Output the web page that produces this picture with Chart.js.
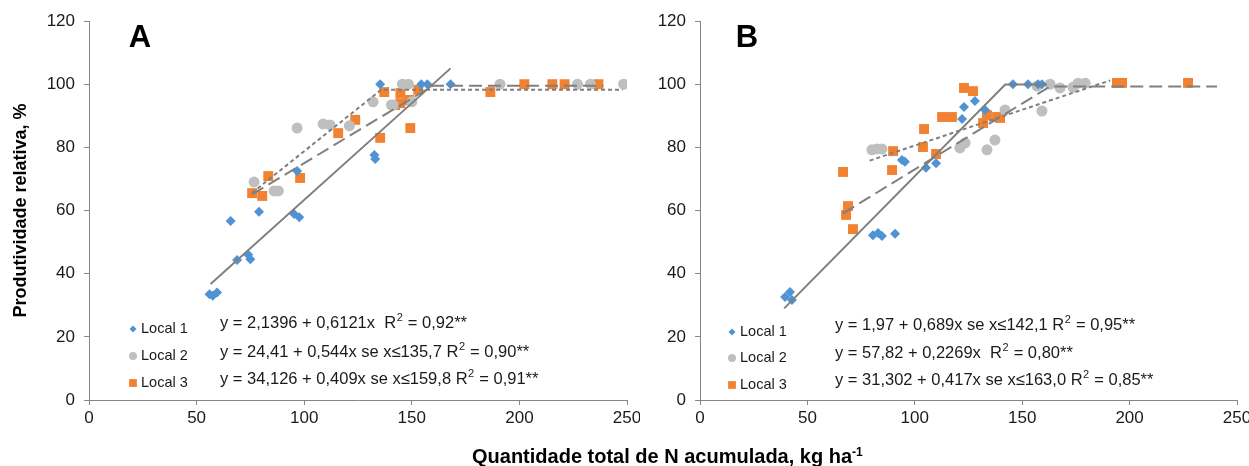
<!DOCTYPE html>
<html lang="pt">
<head>
    <meta charset="UTF-8">
    <title>Produtividade relativa x N acumulado</title>
    <script src="https://cdn.jsdelivr.net/npm/chart.js"></script>
    <style>
        body { margin: 0; padding: 0; background: #fff; }
        #wrap { position: relative; width: 1249px; height: 466px; overflow: hidden; }
        #chartA { position: absolute; left: 0; top: 0; }
        #chartB { position: absolute; left: 640px; top: 0; }
        #xTitle {
            position: absolute; left: 472px; top: 446px;
            font: bold 20px "Liberation Sans", Arial, sans-serif;
            line-height: 20px; color: #000; white-space: nowrap;
        }
        #xTitle sup { font-size: 12px; vertical-align: 7px; line-height: 0; }
    </style>
</head>
<body>
<div id="wrap">
    <canvas id="chartA" width="640" height="466"></canvas>
    <canvas id="chartB" width="609" height="466"></canvas>
    <div id="xTitle">Quantidade total de N acumulada, kg ha<sup>-1</sup></div>
</div>
<script>
    // axes
    const xTicks = [0, 50, 100, 150, 200, 250];
    const yTicks = [0, 20, 40, 60, 80, 100, 120];
    const seriesNames = ['Local 1', 'Local 2', 'Local 3'];

    // Panel A - observed points
    const a1X = [56, 57.5, 59.5, 65.8, 68.8, 74, 75, 79, 95.3, 96.7, 97.7, 132.6, 133, 135.3, 154.4, 157.2, 168];
    const a1Y = [33.5, 33, 34, 56.7, 44.3, 46, 44.6, 59.6, 58.9, 72.5, 57.9, 77.6, 76.3, 100, 100, 100, 100];
    const a2X = [76.7, 86, 88, 96.7, 108.8, 112, 121, 132, 140.5, 141.4, 145.6, 148.4, 150, 191, 227, 233, 248.4];
    const a2Y = [69, 66.2, 66.2, 86.1, 87.4, 87.1, 86.8, 94.4, 93.4, 93.4, 100, 100, 94.4, 100, 100, 100, 100];
    const a3X = [75.8, 80.5, 83.3, 98.1, 115.8, 123.7, 135.3, 137.2, 142.3, 144.7, 144.7, 148.8, 149.3, 153, 186.5, 202.3, 215.3, 221, 236.7];
    const a3Y = [65.5, 64.6, 70.9, 70.3, 84.5, 88.7, 83, 97.5, 93.4, 94, 97.2, 95, 86.1, 98.2, 97.5, 100, 100, 100, 100];
    // Panel A - fitted lines
    const fitA1X = [56.5, 168], fitA1Y = [36.7, 105];
    const fitA2X = [75.8, 135.7, 248], fitA2Y = [65.6, 98.2, 98.2];
    const fitA3X = [75.8, 159.8, 239], fitA3Y = [65.1, 99.5, 99.5];

    // Panel B - observed points
    const b1X = [39.6, 41.9, 42.8, 80.5, 82.9, 84.7, 90.8, 94, 95.4, 105.2, 109.9, 122, 122.9, 128, 132.7, 145.7, 152.7, 157.4, 159.2];
    const b1Y = [32.6, 34.2, 31.7, 52.2, 52.9, 51.9, 52.6, 76, 75.4, 73.5, 75, 89, 92.8, 94.7, 91.8, 100, 100, 100, 100];
    const b2X = [80, 82.4, 84.7, 121, 123.4, 133.6, 137.3, 142, 156.9, 159.2, 163, 167.6, 173.6, 176, 179.3];
    const b2Y = [79.2, 79.5, 79.5, 79.8, 81.4, 79.2, 82.3, 91.8, 99.4, 91.5, 100, 98.8, 99, 100.3, 100.3];
    const b3X = [66.6, 68, 68.9, 71.2, 89.4, 89.9, 103.8, 104.3, 109.9, 112.7, 117.3, 122.9, 127.1, 131.8, 133.6, 138.3, 139.7, 194.1, 196.5, 227.2];
    const b3Y = [72.2, 58.6, 61.4, 54.1, 72.8, 78.8, 80.1, 85.8, 77.9, 89.6, 89.6, 98.8, 97.8, 87.7, 90.2, 89.6, 89.3, 100.4, 100.4, 100.4];
    // Panel B - fitted lines
    const fitB1X = [39.2, 142.1, 161.5], fitB1Y = [29, 99.9, 99.9];
    const fitB2X = [79, 191], fitB2Y = [75.8, 101.2];
    const fitB3X = [66.6, 163, 240.7], fitB3Y = [59.1, 99.3, 99.3];

    const eqA = [
        ['y = 2,1396 + 0,6121x  R', ' = 0,92**'],
        ['y = 24,41 + 0,544x se x≤135,7 R', ' = 0,90**'],
        ['y = 34,126 + 0,409x se x≤159,8 R', ' = 0,91**']
    ];
    const eqB = [
        ['y = 1,97 + 0,689x se x≤142,1 R', ' = 0,95**'],
        ['y = 57,82 + 0,2269x  R', ' = 0,80**'],
        ['y = 31,302 + 0,417x se x≤163,0 R', ' = 0,85**']
    ];

    const FONT = '"Liberation Sans", Arial, sans-serif';
    const BLUE = '#4f93d5', GRAY = '#bfbfbf', ORANGE = '#f08232', LINE = '#7f7f7f';

    function pts(xs, ys) { return xs.map((x, i) => ({ x: x, y: ys[i] })); }

    function pointSet(i, xs, ys, style, color, r, lr) {
        return {
            legendName: seriesNames[i], legendRadius: lr,
            data: pts(xs, ys), showLine: false,
            pointStyle: style, pointRadius: r, pointHoverRadius: r,
            backgroundColor: color, borderColor: color, pointBorderWidth: 0
        };
    }
    function lineSet(xs, ys, dash) {
        return {
            data: pts(xs, ys), showLine: true, pointRadius: 0,
            borderColor: LINE, borderWidth: 2, borderDash: dash, fill: false, tension: 0
        };
    }

    // letter, legend and equations inside each panel
    const overlayPlugin = {
        id: 'overlay',
        afterDraw(chart, args, o) {
            const ctx = chart.ctx;
            ctx.save();
            ctx.fillStyle = '#000';
            ctx.textAlign = 'center';
            ctx.textBaseline = 'middle';
            ctx.font = 'bold 31px ' + FONT;
            ctx.fillText(o.letter, o.letterX, o.letterY);

            ctx.textAlign = 'left';
            chart.data.datasets.filter(d => d.legendName).forEach((ds, i) => {
                const y = o.legendY[i];
                ctx.fillStyle = ds.backgroundColor;
                Chart.helpers.drawPoint(ctx, { pointStyle: ds.pointStyle, radius: ds.legendRadius, rotation: 0, borderWidth: 0 }, o.markerX, y);
                ctx.fillStyle = '#1a1a1a';
                ctx.font = '14.5px ' + FONT;
                ctx.fillText(ds.legendName, o.markerX + 8, y);
            });

            o.eqs.forEach((eq, i) => {
                const y = o.eqY[i];
                let x = o.eqX;
                ctx.fillStyle = '#1a1a1a';
                ctx.font = '16.5px ' + FONT;
                ctx.fillText(eq[0], x, y);
                x += ctx.measureText(eq[0]).width;
                ctx.font = '11px ' + FONT;
                ctx.fillText('2', x + 0.5, y - 5);
                x += ctx.measureText('2').width + 1;
                ctx.font = '16.5px ' + FONT;
                ctx.fillText(eq[1], x, y);
            });
            ctx.restore();
        }
    };

    function makeChart(id, datasets, yWidth, padRight, showYTitle, overlay) {
        new Chart(document.getElementById(id), {
            type: 'scatter',
            data: { datasets: datasets },
            plugins: [overlayPlugin],
            options: {
                responsive: false,
                animation: false,
                layout: { padding: { top: 21, right: padRight, bottom: 26, left: 0 } },
                plugins: { legend: { display: false }, tooltip: { enabled: false }, overlay: overlay },
                scales: {
                    x: {
                        type: 'linear',
                        min: xTicks[0], max: xTicks[xTicks.length - 1],
                        ticks: { stepSize: xTicks[1] - xTicks[0], color: '#1a1a1a', font: { family: FONT, size: 17 }, padding: 3, maxRotation: 0 },
                        grid: { drawOnChartArea: false, drawTicks: true, tickLength: 5, color: '#868686' },
                        border: { color: '#868686' },
                        afterFit: s => { s.height = 40; s.paddingLeft = 0; s.paddingRight = 0; }
                    },
                    y: {
                        type: 'linear',
                        min: yTicks[0], max: yTicks[yTicks.length - 1],
                        ticks: { stepSize: yTicks[1] - yTicks[0], color: '#1a1a1a', font: { family: FONT, size: 17 }, padding: 9 },
                        grid: { drawOnChartArea: false, drawTicks: true, tickLength: 5, color: '#868686' },
                        border: { color: '#868686' },
                        title: {
                            display: showYTitle, text: 'Produtividade relativa, %', color: '#000',
                            font: { family: FONT, size: 18, weight: 'bold' }, padding: { top: 10, bottom: 0 }
                        },
                        afterFit: s => { s.width = yWidth; s.paddingTop = 0; s.paddingBottom = 0; }
                    }
                }
            }
        });
    }

    makeChart('chartA', [
        lineSet(fitA1X, fitA1Y, []),
        lineSet(fitA2X, fitA2Y, [4, 3]),
        lineSet(fitA3X, fitA3Y, [13, 6]),
        pointSet(0, a1X, a1Y, 'rectRot', BLUE, 5, 3.5),
        pointSet(1, a2X, a2Y, 'circle', GRAY, 5.5, 4),
        pointSet(2, a3X, a3Y, 'rect', ORANGE, 7, 5.5)
    ], 89, 13, true, {
        letter: 'A', letterX: 140, letterY: 38,
        markerX: 133, legendY: [329, 356, 383],
        eqs: eqA, eqX: 220, eqY: [323, 352, 379]
    });

    makeChart('chartB', [
        lineSet(fitB1X, fitB1Y, []),
        lineSet(fitB2X, fitB2Y, [4, 3]),
        lineSet(fitB3X, fitB3Y, [13, 6]),
        pointSet(0, b1X, b1Y, 'rectRot', BLUE, 5, 3.5),
        pointSet(1, b2X, b2Y, 'circle', GRAY, 5.5, 4),
        pointSet(2, b3X, b3Y, 'rect', ORANGE, 7, 5.5)
    ], 60, 12, false, {
        letter: 'B', letterX: 107, letterY: 38,
        markerX: 92, legendY: [332, 358, 385],
        eqs: eqB, eqX: 195, eqY: [325, 353, 380]
    });
</script>
</body>
</html>
